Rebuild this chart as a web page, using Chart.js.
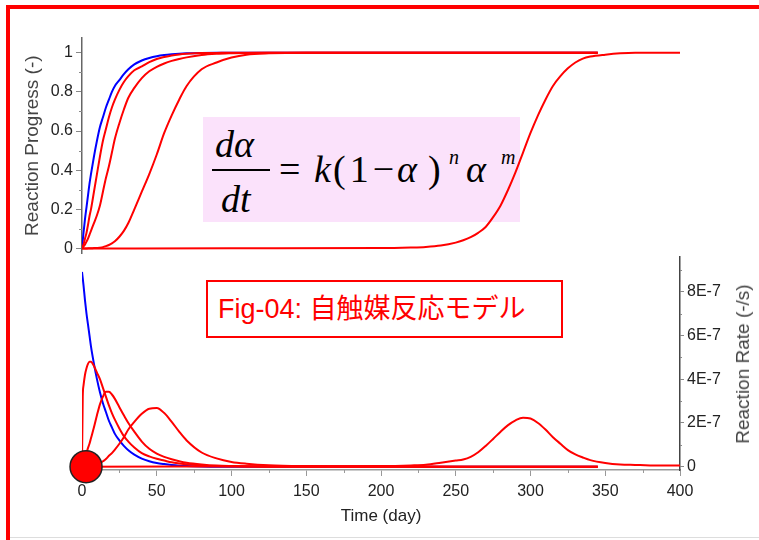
<!DOCTYPE html>
<html lang="ja">
<head>
<meta charset="utf-8">
<title>Fig-04: 自触媒反応モデル</title>
<script src="https://cdn.jsdelivr.net/npm/chart.js@4.4.1/dist/chart.umd.min.js"></script>
<style>
  html, body { margin: 0; padding: 0; background: #fff; }
  body { position: relative; width: 759px; height: 540px; overflow: hidden; font-family: "Liberation Sans", Arial, sans-serif; }
  #frame { position: absolute; left: 6px; top: 5px; width: 770px; height: 560px; border-top: 4px solid #f00; border-left: 4px solid #f00; }
  #bottomRule { position: absolute; left: 10px; top: 537px; width: 749px; height: 1px; background: #ddd; }
  .chartBox { position: absolute; left: 0; width: 759px; }
  #progressBox { top: 0; height: 266px; z-index: 2; }
  #rateBox { top: 244px; height: 296px; z-index: 3; }
  #formulaBg { position: absolute; left: 203px; top: 117px; width: 317px; height: 105px; background: #fbe2fb; z-index: 1; }
  .eq { position: absolute; font-family: "Liberation Serif", "Times New Roman", serif; font-style: italic; font-size: 38px; line-height: 38px; color: #000; white-space: nowrap; z-index: 1; }
  .eq.up { font-style: normal; }
  .eq.sup { font-size: 20px; line-height: 20px; }
  #fracBar { position: absolute; left: 212px; top: 169px; width: 58px; height: 2px; background: #000; z-index: 1; }
  #figLabel { position: absolute; left: 206px; top: 280px; width: 357px; height: 58px; box-sizing: border-box; border: 2px solid #f00; background: #fff;
              color: #f00; font-family: "Liberation Sans", "Noto Sans CJK JP", sans-serif; font-size: 27px; line-height: 54px; padding-left: 10px; z-index: 4; }
  #rateTitle { position: absolute; left: 743px; top: 364px; transform: translate(-50%, -50%) rotate(-90deg); white-space: nowrap;
               font-size: 19px; color: #444; z-index: 4; }
</style>
</head>
<body>
<div id="frame"></div>
<div id="bottomRule"></div>

<div id="formulaBg"></div>
<span class="eq" style="left:215px; top:125px;">dα</span>
<div id="fracBar"></div>
<span class="eq" style="left:221px; top:180px;">dt</span>
<span class="eq up" style="left:279px; top:150px;">=</span>
<span class="eq" style="left:314px; top:150px;">k</span>
<span class="eq up" style="left:333px; top:150px; letter-spacing:4px;">(1−</span>
<span class="eq" style="left:397px; top:150px;">α</span>
<span class="eq up" style="left:428px; top:150px;">)</span>
<span class="eq sup" style="left:449px; top:147px;">n</span>
<span class="eq" style="left:466px; top:150px;">α</span>
<span class="eq sup" style="left:501px; top:147px;">m</span>

<div class="chartBox" id="progressBox"><canvas id="progressChart"></canvas></div>
<div class="chartBox" id="rateBox"><canvas id="rateChart"></canvas></div>

<div id="figLabel">Fig-04: 自触媒反応モデル</div>
<div id="rateTitle">Reaction Rate (-/s)</div>

<script>
// Time grid (day) for the four early runs
const days = [0, 0.5, 1, 2, 3, 4, 5, 6, 8, 10, 12, 14, 16, 18, 20, 22, 25, 28, 31, 35,
              40, 45, 50, 55, 60, 65, 70, 80, 90, 100, 110, 125, 150, 200, 250, 300, 345];

// Reaction progress (-)
const blueProgress = [0, 0.04, 0.08, 0.15, 0.21, 0.27, 0.33, 0.38, 0.47, 0.55, 0.62, 0.67, 0.72, 0.76, 0.8, 0.83, 0.86, 0.89, 0.915, 0.94,
                      0.96, 0.973, 0.982, 0.988, 0.992, 0.995, 0.997, 0.999, 1, 1, 1, 1, 1, 1, 1, 1, 1];
const red1Progress = [0, 0.01, 0.02, 0.05, 0.08, 0.12, 0.165, 0.2, 0.29, 0.38, 0.47, 0.55, 0.61, 0.67, 0.72, 0.76, 0.81, 0.85, 0.88, 0.91,
                      0.93, 0.952, 0.968, 0.978, 0.986, 0.991, 0.994, 0.998, 0.999, 1, 1, 1, 1, 1, 1, 1, 1];
const red2Progress = [0, 0.005, 0.01, 0.02, 0.035, 0.05, 0.07, 0.09, 0.13, 0.17, 0.22, 0.29, 0.36, 0.42, 0.49, 0.56, 0.64, 0.71, 0.77, 0.82,
                      0.87, 0.905, 0.928, 0.945, 0.958, 0.968, 0.976, 0.988, 0.994, 0.997, 0.999, 1, 1, 1, 1, 1, 1];
const red3Progress = [0, 0, 0, 0, 0, 0.001, 0.001, 0.001, 0.002, 0.002, 0.004, 0.007, 0.012, 0.018, 0.026, 0.037, 0.06, 0.09, 0.13, 0.2,
                      0.29, 0.38, 0.48, 0.59, 0.68, 0.76, 0.83, 0.915, 0.95, 0.975, 0.99, 0.997, 1, 1, 1, 1, 1];

// Reaction rate, in units of 1E-7 /s
const blueRate = [8.9, 8.6, 8.3, 7.6, 7.0, 6.5, 6.0, 5.5, 4.7, 4.0, 3.4, 2.9, 2.5, 2.1, 1.8, 1.5, 1.2, 0.95, 0.75, 0.55,
                  0.37, 0.25, 0.17, 0.12, 0.08, 0.05, 0.03, 0.01, 0, 0, 0, 0, 0, 0, 0, 0, 0];
const red1Rate = [0, 3.2, 3.7, 4.2, 4.5, 4.7, 4.8, 4.8, 4.6, 4.3, 4.0, 3.6, 3.2, 2.8, 2.45, 2.15, 1.75, 1.4, 1.15, 0.88,
                  0.62, 0.47, 0.36, 0.28, 0.2, 0.15, 0.11, 0.06, 0.03, 0.02, 0.01, 0, 0, 0, 0, 0, 0];
const red2Rate = [0.1, 0.25, 0.35, 0.5, 0.65, 0.85, 1.05, 1.3, 1.8, 2.35, 2.85, 3.2, 3.42, 3.42, 3.3, 3.1, 2.72, 2.35, 2.0, 1.6,
                  1.15, 0.82, 0.6, 0.45, 0.34, 0.25, 0.18, 0.1, 0.05, 0.03, 0.02, 0.01, 0, 0, 0, 0, 0];
const red3Rate = [0, 0, 0, 0.01, 0.01, 0.02, 0.02, 0.03, 0.05, 0.1, 0.15, 0.25, 0.35, 0.5, 0.62, 0.78, 1.05, 1.35, 1.7, 2.05,
                  2.42, 2.65, 2.68, 2.45, 2.05, 1.6, 1.2, 0.65, 0.38, 0.22, 0.14, 0.07, 0.03, 0.01, 0, 0, 0];

// Late run, its own time grid
const lateDays = [0, 100, 200, 220, 230, 240, 250, 255, 260, 265, 270, 275, 280, 285, 290, 295,
                  300, 305, 310, 315, 320, 325, 330, 335, 340, 350, 360, 370, 380, 390, 400];
const lateProgress = [0, 0.001, 0.002, 0.005, 0.008, 0.015, 0.03, 0.042, 0.058, 0.08, 0.11, 0.16, 0.22, 0.3, 0.39, 0.49,
                      0.59, 0.68, 0.76, 0.83, 0.88, 0.92, 0.95, 0.97, 0.98, 0.99, 0.997, 1, 1, 1, 1];
const lateRate = [0, 0.01, 0.03, 0.06, 0.09, 0.18, 0.28, 0.33, 0.45, 0.66, 0.95, 1.27, 1.6, 1.9, 2.12, 2.24,
                  2.2, 2.0, 1.7, 1.35, 1.05, 0.76, 0.56, 0.42, 0.3, 0.17, 0.1, 0.08, 0.06, 0.05, 0.05];

// Current-time marker
const markerDay = [2.7];
const markerRate = [0];

// Axis ticks (labelled ones carry text, the others are minor marks)
const progressTicks = [0, 0.1, 0.2, 0.3, 0.4, 0.5, 0.6, 0.7, 0.8, 0.9, 1];
const progressLabels = ['0', '', '0.2', '', '0.4', '', '0.6', '', '0.8', '', '1'];
const rateTicks = [0, 1, 2, 3, 4, 5, 6, 7, 8, 9];
const rateLabels = ['0', '', '2E-7', '', '4E-7', '', '6E-7', '', '8E-7', ''];
const timeTicks = [0, 25, 50, 75, 100, 125, 150, 175, 200, 225, 250, 275, 300, 325, 350, 375, 400];
const timeLabels = ['0', '', '50', '', '100', '', '150', '', '200', '', '250', '', '300', '', '350', '', '400'];

const RED = '#ff0000';
const BLUE = '#0000ff';
const FONT_FAMILY = '"Liberation Sans", Arial, sans-serif';
const TICK_FONT = { family: FONT_FAMILY, size: 16 };

function toPoints(xs, ys) {
    return xs.map((x, i) => ({ x: x, y: ys[i] }));
}

function curve(xs, ys, color) {
    return {
        data: toPoints(xs, ys),
        borderColor: color,
        borderWidth: 2,
        pointRadius: 0,
        cubicInterpolationMode: 'monotone',
        fill: false
    };
}

function fixedTicks(values) {
    return scale => { scale.ticks = values.map(v => ({ value: v })); };
}

// major tick marks only where there is a label
function majorColor(labels, color) {
    return ctx => (labels[ctx.index] ? color : 'rgba(0,0,0,0)');
}

// short tick marks for the unlabelled ticks
const minorTicks = {
    id: 'minorTicks',
    afterDraw(chart, args, opts) {
        const ctx = chart.ctx;
        Object.keys(opts).forEach(id => {
            const scale = chart.scales[id];
            const cfg = opts[id];
            if (!scale || !cfg || !cfg.labels) return;
            ctx.save();
            ctx.strokeStyle = cfg.color;
            ctx.lineWidth = 1;
            scale.ticks.forEach((t, i) => {
                if (cfg.labels[i]) return;
                const p = Math.round(scale.getPixelForTick(i)) + 0.5;
                ctx.beginPath();
                if (scale.position === 'left') {
                    ctx.moveTo(scale.right - cfg.length, p);
                    ctx.lineTo(scale.right, p);
                } else if (scale.position === 'right') {
                    ctx.moveTo(scale.left, p);
                    ctx.lineTo(scale.left + cfg.length, p);
                } else {
                    ctx.moveTo(p, scale.top);
                    ctx.lineTo(p, scale.top + cfg.length);
                }
                ctx.stroke();
            });
            ctx.restore();
        });
    }
};

const baseOptions = {
    responsive: true,
    maintainAspectRatio: false,
    animation: false,
    events: []
};

// Top panel: reaction progress
new Chart(document.getElementById('progressChart'), {
    type: 'line',
    plugins: [minorTicks],
    data: {
        datasets: [
            curve(lateDays, lateProgress, RED),
            curve(days, red3Progress, RED),
            curve(days, red2Progress, RED),
            curve(days, red1Progress, RED),
            curve(days, blueProgress, BLUE)
        ]
    },
    options: {
        ...baseOptions,
        layout: { autoPadding: false, padding: { left: 21, right: 79, top: 38, bottom: 7 } },
        plugins: {
            legend: { display: false },
            tooltip: { enabled: false },
            minorTicks: { y: { labels: progressLabels, length: 3, color: '#888' } }
        },
        scales: {
            x: { type: 'linear', min: 0, max: 400, display: false },
            y: {
                min: -0.025,
                max: 1.075,
                afterBuildTicks: fixedTicks(progressTicks),
                afterFit: s => { s.width = 61; },
                ticks: {
                    autoSkip: false,
                    padding: 3,
                    color: '#222',
                    font: TICK_FONT,
                    callback: (v, i) => progressLabels[i]
                },
                grid: { drawOnChartArea: false, tickLength: 6, tickColor: majorColor(progressLabels, '#888') },
                border: { color: '#666', width: 1.5 },
                title: {
                    display: true,
                    text: 'Reaction Progress (-)',
                    color: '#444',
                    font: { family: FONT_FAMILY, size: 19 },
                    padding: { top: 0, bottom: 0 }
                }
            }
        }
    }
});

// Bottom panel: reaction rate
new Chart(document.getElementById('rateChart'), {
    type: 'line',
    plugins: [minorTicks],
    data: {
        datasets: [
            {
                data: toPoints(markerDay, markerRate),
                showLine: false,
                pointRadius: 16,
                pointBackgroundColor: RED,
                pointBorderColor: '#222',
                pointBorderWidth: 1.5,
                clip: false
            },
            curve(lateDays, lateRate, RED),
            curve(days, red3Rate, RED),
            curve(days, red2Rate, RED),
            curve(days, red1Rate, RED),
            curve(days, blueRate, BLUE)
        ]
    },
    options: {
        ...baseOptions,
        layout: { autoPadding: false, padding: { left: 82, right: 19, top: 0, bottom: 9 } },
        plugins: {
            legend: { display: false },
            tooltip: { enabled: false },
            minorTicks: {
                x: { labels: timeLabels, length: 3, color: '#999' },
                y: { labels: rateLabels, length: 2, color: '#888' }
            }
        },
        scales: {
            x: {
                type: 'linear',
                min: 0,
                max: 400,
                afterBuildTicks: fixedTicks(timeTicks),
                afterFit: s => { s.height = 61; },
                ticks: {
                    autoSkip: false,
                    maxRotation: 0,
                    padding: 6,
                    color: '#222',
                    font: TICK_FONT,
                    callback: (v, i) => timeLabels[i]
                },
                grid: { drawOnChartArea: false, tickLength: 6, tickColor: majorColor(timeLabels, '#999') },
                border: { color: '#999', width: 1.5 },
                title: {
                    display: true,
                    text: 'Time (day)',
                    color: '#222',
                    font: { family: FONT_FAMILY, size: 17 },
                    padding: { top: 0, bottom: 4 }
                }
            },
            y: {
                position: 'right',
                min: -0.15,
                max: 9.6,
                afterBuildTicks: fixedTicks(rateTicks),
                afterFit: s => { s.width = 60; },
                ticks: {
                    autoSkip: false,
                    padding: 3,
                    color: '#222',
                    font: TICK_FONT,
                    callback: (v, i) => rateLabels[i]
                },
                grid: { drawOnChartArea: false, tickLength: 4, tickColor: majorColor(rateLabels, '#888') },
                border: { color: '#444', width: 1.5 }
            }
        }
    }
});
</script>
</body>
</html>
